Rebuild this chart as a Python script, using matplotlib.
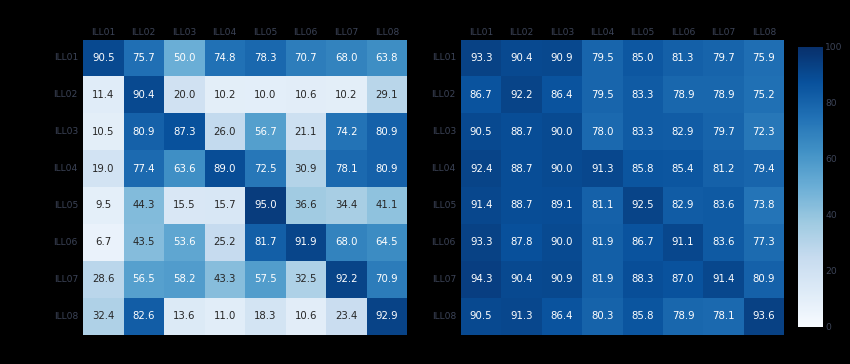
import matplotlib
matplotlib.use("Agg")
import matplotlib.pyplot as plt
import numpy as np
import seaborn as sns

labels = ["ILL01", "ILL02", "ILL03", "ILL04", "ILL05", "ILL06", "ILL07", "ILL08"]

left_vals = [
    [90.5, 75.7, 50.0, 74.8, 78.3, 70.7, 68.0, 63.8],
    [11.4, 90.4, 20.0, 10.2, 10.0, 10.6, 10.2, 29.1],
    [10.5, 80.9, 87.3, 26.0, 56.7, 21.1, 74.2, 80.9],
    [19.0, 77.4, 63.6, 89.0, 72.5, 30.9, 78.1, 80.9],
    [9.5, 44.3, 15.5, 15.7, 95.0, 36.6, 34.4, 41.1],
    [6.7, 43.5, 53.6, 25.2, 81.7, 91.9, 68.0, 64.5],
    [28.6, 56.5, 58.2, 43.3, 57.5, 32.5, 92.2, 70.9],
    [32.4, 82.6, 13.6, 11.0, 18.3, 10.6, 23.4, 92.9],
]

right_vals = [
    [93.3, 90.4, 90.9, 79.5, 85.0, 81.3, 79.7, 75.9],
    [86.7, 92.2, 86.4, 79.5, 83.3, 78.9, 78.9, 75.2],
    [90.5, 88.7, 90.0, 78.0, 83.3, 82.9, 79.7, 72.3],
    [92.4, 88.7, 90.0, 91.3, 85.8, 85.4, 81.2, 79.4],
    [91.4, 88.7, 89.1, 81.1, 92.5, 82.9, 83.6, 73.8],
    [93.3, 87.8, 90.0, 81.9, 86.7, 91.1, 83.6, 77.3],
    [94.3, 90.4, 90.9, 81.9, 88.3, 87.0, 91.4, 80.9],
    [90.5, 91.3, 86.4, 80.3, 85.8, 78.9, 78.1, 93.6],
]

cbar_ticks = [0, 20, 40, 60, 80, 100]

label_color = "#3c4458"

fig = plt.figure(figsize=(8.5, 3.64), dpi=100, facecolor="black")
W, H = 850, 364
def pos(x0, x1, y0, y1):
    return [x0 / W, 1 - y1 / H, (x1 - x0) / W, (y1 - y0) / H]

ax1 = fig.add_axes(pos(83, 407, 39.5, 334.5))
ax2 = fig.add_axes(pos(461, 784, 39.5, 334.5))
cax = fig.add_axes(pos(798, 823, 47, 327))

sns.heatmap(np.array(left_vals), ax=ax1, cmap="Blues", vmin=0, vmax=100,
            annot=True, fmt=".1f", annot_kws={"fontsize": 7.3}, cbar=False,
            xticklabels=labels, yticklabels=labels)
sns.heatmap(np.array(right_vals), ax=ax2, cmap="Blues", vmin=0, vmax=100,
            annot=True, fmt=".1f", annot_kws={"fontsize": 7.3}, cbar=True,
            cbar_ax=cax, xticklabels=labels, yticklabels=labels)

for ax in (ax1, ax2):
    ax.set_facecolor("black")
    ax.xaxis.tick_top()
    ax.tick_params(axis="both", length=0, labelsize=6.6, labelcolor=label_color)
    ax.tick_params(axis="y", pad=3.6)
    ax.tick_params(axis="x", pad=2)
    plt.setp(ax.get_yticklabels(), rotation=0)
    plt.setp(ax.get_xticklabels(), rotation=0)

cax.set_yticks(cbar_ticks)
cax.tick_params(length=0, labelsize=6.6, labelcolor=label_color, pad=1.5)
for s in cax.spines.values():
    s.set_visible(False)

fig.savefig("out.png", dpi=100, facecolor="black")
